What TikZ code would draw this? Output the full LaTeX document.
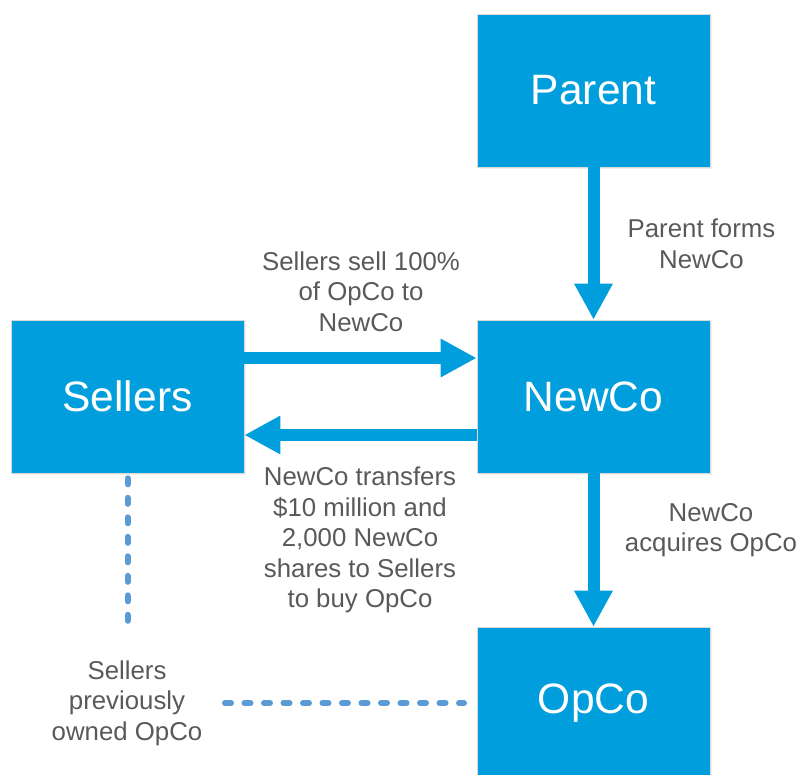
\documentclass[tikz,border=0pt]{standalone}
\usepackage{fontspec}
\setmainfont{Liberation Sans}
\usetikzlibrary{arrows.meta,shadows}
\definecolor{boxblue}{RGB}{0,158,220}
\definecolor{txtgray}{RGB}{89,89,89}
\definecolor{dotblue}{RGB}{91,155,213}
\tikzset{
  entity/.style={rectangle, fill=boxblue, draw=black!15, line width=0.6pt,
    minimum width=233pt, minimum height=153pt, inner sep=0pt,
    text=white, font=\fontsize{42.5}{50}\selectfont,
    drop shadow={opacity=0.12, shadow xshift=2pt, shadow yshift=-2pt}},
  flow/.style={draw=boxblue, line width=12pt,
    -{Triangle[length=36pt,width=36pt]}},
  note/.style={align=center, text=txtgray, inner sep=0pt,
    font=\fontsize{25.8}{30.5}\selectfont},
  linkdots/.style={draw=dotblue, line width=6pt, line cap=round,
    dash pattern=on 6pt off 13.5pt}
}
\begin{document}
\begin{tikzpicture}[x=1pt,y=-1pt]
\useasboundingbox (0,0) rectangle (798,774);
\clip (0,0) rectangle (798,774);
\node[entity] (parent) at (593.5,90.5) {Parent};
\node[entity] (newco) at (593.5,396.5) {NewCo};
\node[entity] (sellers) at (127.5,396.5) {Sellers};
\node[entity] (opco) at (593.5,703.5) {OpCo};

\draw[flow] (parent.south) -- (newco.north);
\draw[flow] (newco.south) -- (opco.north);
\draw[flow] ([yshift=38.5pt]sellers.east) -- ([yshift=38.5pt]newco.west);
\draw[flow] ([yshift=-38.5pt]newco.west) -- ([yshift=-38.5pt]sellers.east);

\node[note] (lparent) at (701.5,244) {Parent forms\\NewCo};
\node[note] (lsell) at (361,291.5) {Sellers sell 100\%\\of OpCo to\\NewCo};
\node[note] (ltrans) at (360,540) {NewCo transfers\\\$10 million and\\2,000 NewCo\\shares to Sellers\\to buy OpCo};
\node[note] (lacq) at (711,530) {NewCo\\acquires OpCo};
\node[note] (lprev) at (127,703) {Sellers\\previously\\owned OpCo};

\coordinate (vend) at (127.5,631);
\coordinate (hstart) at (225,703);
\coordinate (hend) at (464,703);
\draw[linkdots] ([yshift=-5pt]sellers.south) -- (vend);
\draw[linkdots] (hstart) -- (hend);
\end{tikzpicture}
\end{document}
